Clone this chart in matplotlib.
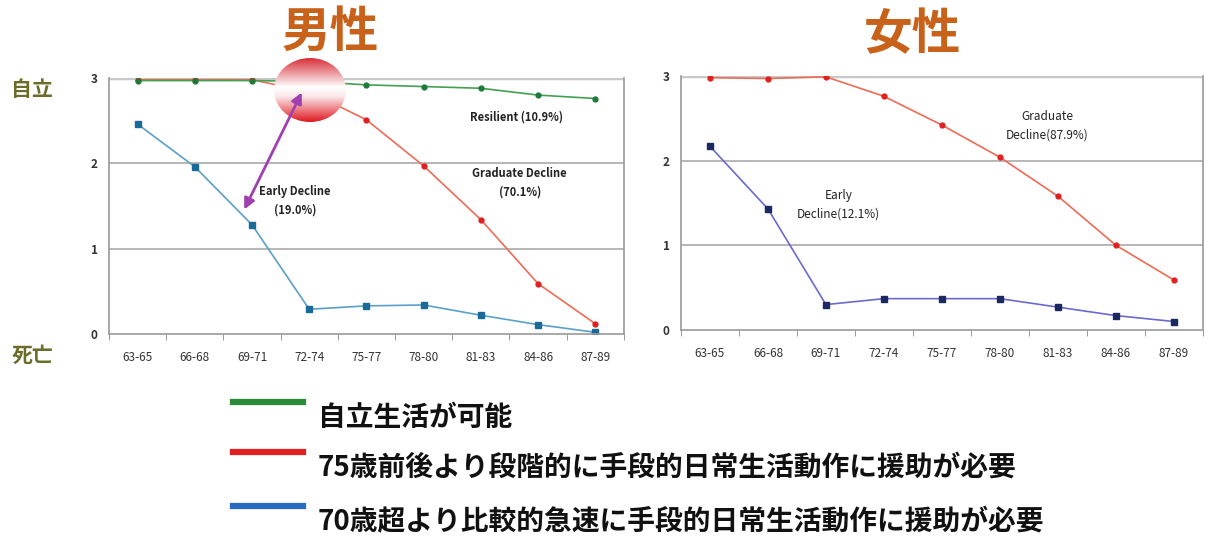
import numpy as np
import matplotlib
matplotlib.use('Agg')
from matplotlib import pyplot as plt
from matplotlib.patches import Ellipse
from matplotlib.colors import LinearSegmentedColormap

plt.rcParams['font.family'] = ['Noto Sans CJK JP', 'DejaVu Sans']

# 年齢区分
periods = ['63-65', '66-68', '69-71', '72-74', '75-77', '78-80', '81-83', '84-86', '87-89']

# 男性
male_resilient = [2.97, 2.97, 2.97, 2.96, 2.92, 2.90, 2.88, 2.80, 2.76]
male_graduate = [2.98, 2.98, 2.98, 2.84, 2.51, 1.97, 1.34, 0.59, 0.12]
male_early = [2.46, 1.96, 1.28, 0.29, 0.33, 0.34, 0.22, 0.11, 0.02]

# 女性
female_graduate = [2.98, 2.97, 2.99, 2.76, 2.42, 2.04, 1.58, 1.00, 0.59]
female_early = [2.17, 1.43, 0.30, 0.37, 0.37, 0.37, 0.27, 0.17, 0.10]

legend_labels = ['自立生活が可能',
                 '75歳前後より段階的に手段的日常生活動作に援助が必要',
                 '70歳超より比較的急速に手段的日常生活動作に援助が必要']

fig = plt.figure(figsize=(12.08, 5.37), dpi=100)


def setup_axes(ax):
    x = np.arange(len(periods))
    ax.set_xlim(-0.5, len(periods) - 0.5)
    ax.set_ylim(0, 3)
    ax.set_yticks([0, 1, 2, 3])
    ax.set_yticklabels(['0', '1', '2', '3'], fontsize=8.5, fontweight='bold', color='#333333')
    ax.set_xticks(x)
    ax.set_xticklabels(periods, fontsize=8.5, color='#333333')
    ax.set_xticks(np.arange(len(periods) + 1) - 0.5, minor=True)
    ax.tick_params(axis='x', which='major', length=0, pad=12)
    ax.tick_params(axis='x', which='minor', length=4, color='#888888')
    ax.tick_params(axis='y', length=0, pad=8)
    for y in [1, 2]:
        ax.axhline(y, color='#aaaaaa', lw=1.2, zorder=0)
    ax.axhline(3, color='#c8c8c8', lw=2.5, zorder=0)
    for s in ['left', 'bottom', 'right']:
        ax.spines[s].set_color('#999999')
        ax.spines[s].set_linewidth(1.2)
    ax.spines['top'].set_visible(False)
    return x


# 男性のグラフ
ax1 = fig.add_axes([0.0902, 0.378, 0.4263, 0.4767])
x = setup_axes(ax1)
ax1.plot(x, male_graduate, color='#f06a55', lw=1.2, marker='o', ms=3.5,
         mfc='#e02020', mec='#e02020')
ax1.plot(x, male_resilient, color='#44a050', lw=1.2, marker='o', ms=3.5,
         mfc='#1e7a3a', mec='#1e7a3a')
ax1.plot(x, male_early, color='#5aa0c8', lw=1.2, marker='s', ms=5,
         mfc='#1a6a98', mec='#1a6a98')
ax1.text(6.63, 2.54, 'Resilient (10.9%)', fontsize=8, fontweight='bold', ha='center',
         va='center', color='#222222')
ax1.text(6.68, 1.77, 'Graduate Decline\n(70.1%)', fontsize=8, fontweight='bold', ha='center',
         va='center', linespacing=1.5, color='#222222')
ax1.text(2.75, 1.56, 'Early Decline\n(19.0%)', fontsize=8, fontweight='bold', ha='center',
         va='center', linespacing=1.5, color='#222222')

# 女性のグラフ
ax2 = fig.add_axes([0.5637, 0.3855, 0.4321, 0.473])
x = setup_axes(ax2)
ax2.plot(x, female_graduate, color='#f06a55', lw=1.2, marker='o', ms=3.5,
         mfc='#e02020', mec='#e02020')
ax2.plot(x, female_early, color='#6a6acc', lw=1.2, marker='s', ms=5,
         mfc='#1a2a60', mec='#1a2a60')
ax2.text(5.82, 2.41, 'Graduate\nDecline(87.9%)', fontsize=8.5, ha='center', va='center',
         linespacing=1.6, color='#222222')
ax2.text(2.22, 1.48, 'Early\nDecline(12.1%)', fontsize=8.5, ha='center', va='center',
         linespacing=1.6, color='#222222')

# タイトルとラベル
fig.text(330 / 1208, 1 - 32 / 537, '男性', fontsize=35, fontweight='bold', color='#c8621a',
         ha='center', va='center')
fig.text(912 / 1208, 1 - 35 / 537, '女性', fontsize=35, fontweight='bold', color='#c8621a',
         ha='center', va='center')
fig.text(32 / 1208, 1 - 90 / 537, '自立', fontsize=15, fontweight='bold', color='#6b6b2a',
         ha='center', va='center')
fig.text(32 / 1208, 1 - 355 / 537, '死亡', fontsize=15, fontweight='bold', color='#6b6b2a',
         ha='center', va='center')

# 赤いグラデーションの円
cax = fig.add_axes([274 / 1208, 1 - 122 / 537, 72 / 1208, 64 / 537])
cax.set_axis_off()
cmap = LinearSegmentedColormap.from_list('ball', [(0.0, '#d8303a'), (0.45, '#ffffff'),
                                                  (0.6, '#fbe8ea'), (1.0, '#e01820')])
grad = np.linspace(0, 1, 200).reshape(-1, 1)
im = cax.imshow(grad, cmap=cmap, aspect='auto', extent=(0, 1, 1, 0))
cax.set_xlim(0, 1)
cax.set_ylim(1, 0)
ell = Ellipse((0.5, 0.5), 1.0, 1.0, transform=cax.transAxes, facecolor='none', edgecolor='none')
cax.add_patch(ell)
im.set_clip_path(ell)

# 紫の矢印
fig.add_artist(matplotlib.patches.FancyArrowPatch(
    (243 / 1208, 1 - 212 / 537), (303 / 1208, 1 - 90 / 537), transform=fig.transFigure,
    arrowstyle='<|-|>', mutation_scale=16, color='#a040b0', lw=2))

# 凡例
legend_colors = ['#2a8a3a', '#e02020', '#2a6ac0']
legend_y = [408, 458, 512]
for label, c, yy in zip(legend_labels, legend_colors, legend_y):
    fig.add_artist(plt.Line2D([233 / 1208, 303 / 1208], [1 - (yy - 6) / 537] * 2,
                              color=c, lw=4.5, transform=fig.transFigure))
    fig.text(318 / 1208, 1 - (yy + 10) / 537, label, fontsize=20, fontweight='bold',
             color='#111111', va='center')

fig.savefig('out.png', dpi=100)
